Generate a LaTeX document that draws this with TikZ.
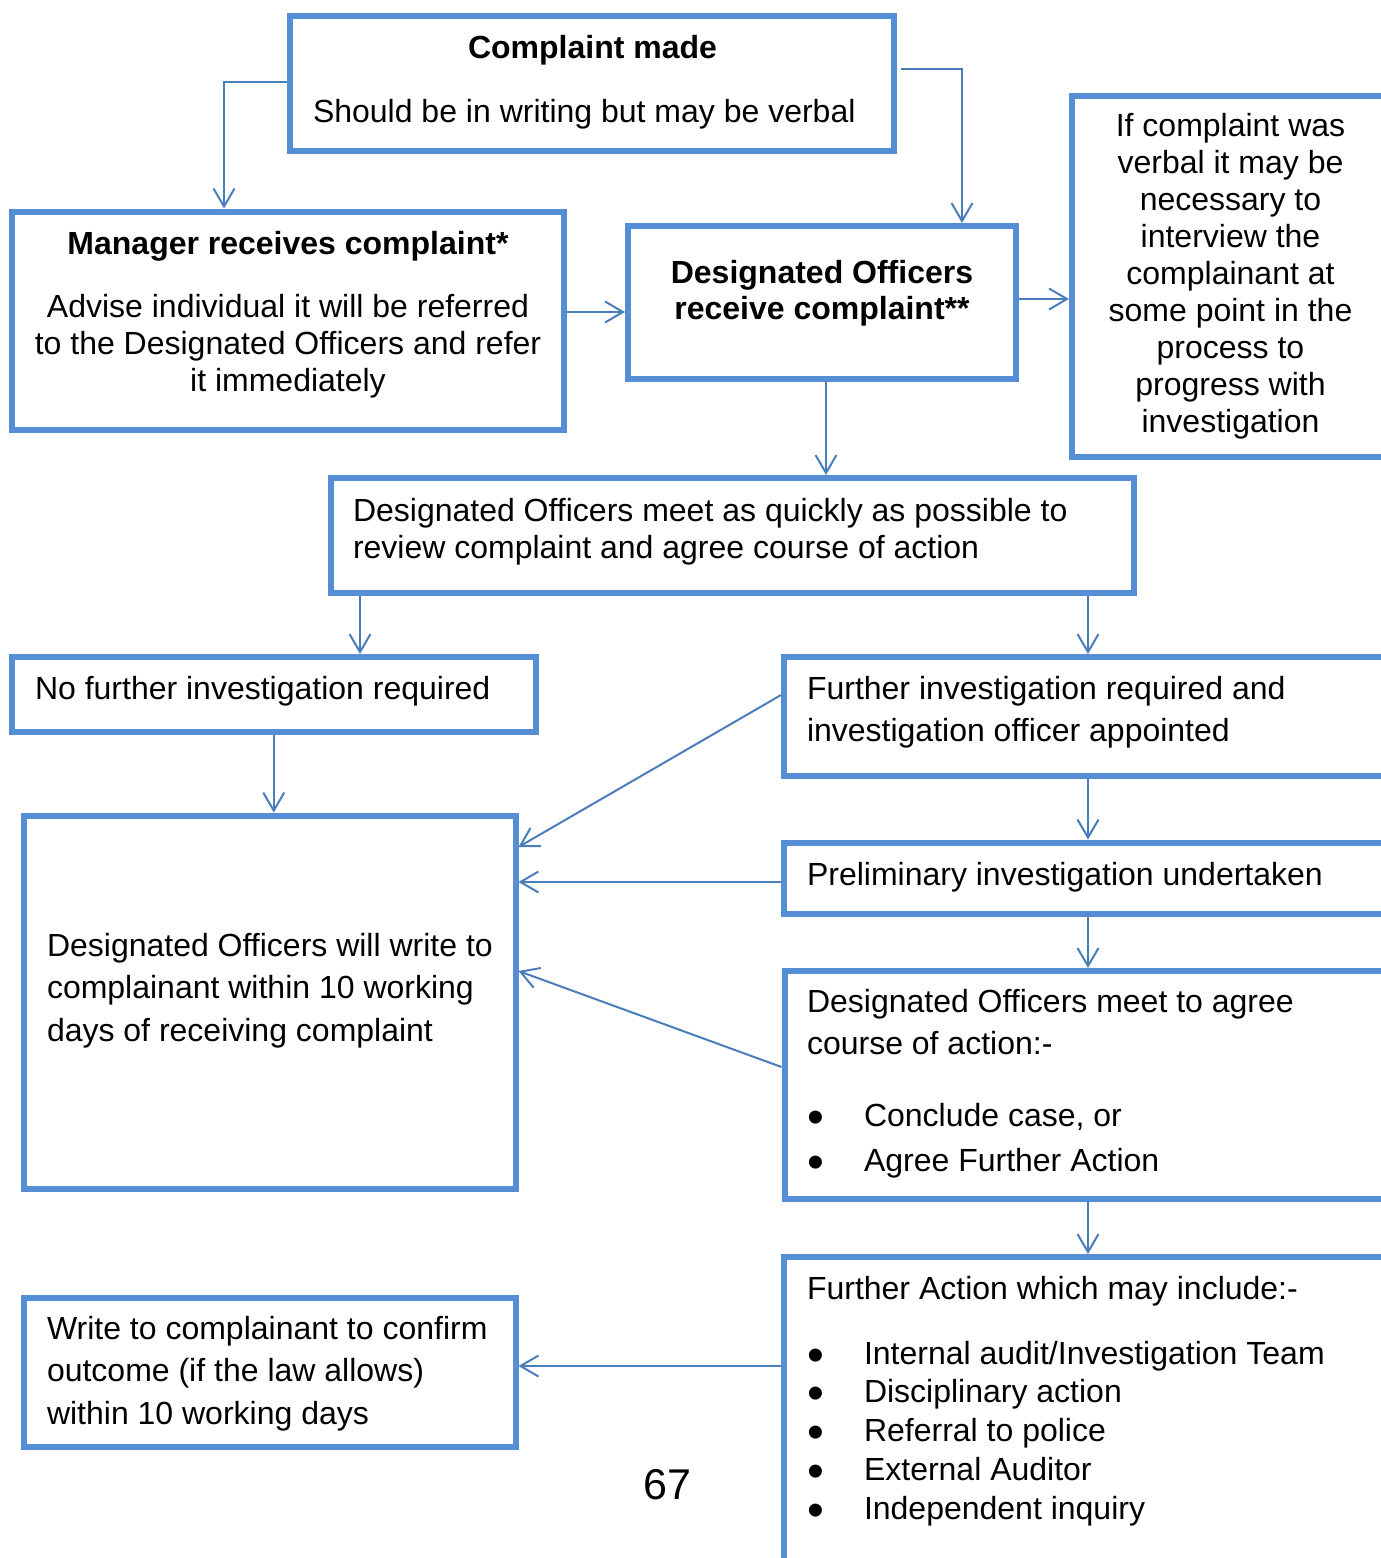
\documentclass[tikz,border=0pt]{standalone}
\usepackage{fontspec}
\setmainfont{Liberation Sans}
\usepackage{graphicx}
\usetikzlibrary{arrows.meta,calc}
\definecolor{boxblue}{RGB}{85,142,213}
\definecolor{lineblue}{RGB}{74,126,187}
\newcommand\fsz[1]{\fontsize{16pt}{#1}\selectfont}
\newcommand\bul{\makebox[28.5pt][l]{\smash{\raisebox{-3.5pt}{\scalebox{1.5}{•}}}}}
\begin{document}
\begin{tikzpicture}[x=0.5pt,y=-0.5pt,
  box/.style={draw=boxblue,line width=3pt,inner sep=0pt,fill=none},
  conn/.style={draw=lineblue,line width=1pt,-{Straight Barb[length=9pt,width=10.5pt]}},
  txt/.style={inner sep=0pt,outer sep=0pt,text=black},
]
\useasboundingbox (0,0) rectangle (1381,1558);
\clip (0,0) rectangle (1381,1558);

% boxes
\node[box,minimum width=301.85pt,minimum height=67.5pt] (cm) at (591.85,83.5) {};
\node[box,minimum width=276pt,minimum height=109pt] (mgr) at (288,320.5) {};
\node[box,minimum width=194pt,minimum height=76.25pt] (dor) at (822,302.25) {};
\node[box,minimum width=174pt,minimum height=180.5pt] (verb) at (1246,276.5) {};
\node[box,minimum width=401.5pt,minimum height=57.5pt] (meet) at (732.5,535.5) {};
\node[box,minimum width=261.75pt,minimum height=37.25pt] (nf) at (273.75,694.25) {};
\node[box,minimum width=318pt,minimum height=59.5pt] (fi) at (1102,716.5) {};
\node[box,minimum width=245.75pt,minimum height=186.75pt] (wr) at (269.75,1002.25) {};
\node[box,minimum width=318pt,minimum height=35.75pt] (pre) at (1102,878.25) {};
\node[box,minimum width=317.75pt,minimum height=114pt] (ma) at (1102.25,1085) {};
\node[box,minimum width=245.75pt,minimum height=74.5pt] (wc) at (269.75,1372.5) {};
\node[box,minimum width=318pt,minimum height=181.5pt] (fa) at (1102,1438.5) {};

% helper coordinates
\coordinate (k1) at (224,82);
\coordinate (k2) at (962,69);
\coordinate (k3) at (0,312);
\coordinate (k4) at (0,299);
\coordinate (k5) at (826,0);
\coordinate (k6) at (360,0);
\coordinate (k7) at (1088,0);
\coordinate (k8) at (0,695);
\coordinate (k9) at (0,847);
\coordinate (k10) at (0,882);
\coordinate (k11) at (0,1067);
\coordinate (k12) at (0,971);
\coordinate (k13) at (0,1366);

% connectors
\draw[conn] (cm.west |- k1) -| (mgr.north -| k1);
\draw[conn] ($(cm.east |- k2)+(4,0)$) -| (dor.north -| k2);
\draw[conn] (mgr.east |- k3) -- (dor.west |- k3);
\draw[conn] (dor.east |- k4) -- (verb.west |- k4);
\draw[conn] (dor.south -| k5) -- (meet.north -| k5);
\draw[conn] (meet.south -| k6) -- (nf.north -| k6);
\draw[conn] (meet.south -| k7) -- (fi.north -| k7);
\draw[conn] (nf.south) -- (wr.north -| nf.south);
\draw[conn] (fi.west |- k8) -- (wr.east |- k9);
\draw[conn] (fi.south -| k7) -- (pre.north -| k7);
\draw[conn] (pre.west |- k10) -- (wr.east |- k10);
\draw[conn] (pre.south -| k7) -- (ma.north -| k7);
\draw[conn] (ma.west |- k11) -- (wr.east |- k12);
\draw[conn] (ma.south -| k7) -- (fa.north -| k7);
\draw[conn] (fa.west |- k13) -- (wc.east |- k13);

% texts (base anchor = baseline of the last line)
\node[txt,anchor=base,font={\fsz{18pt}\bfseries}] (tcm1) at (592.5,58) {Complaint made};
\node[txt,anchor=base west,font={\fsz{18pt}}] (tcm2) at (313,122) {Should be in writing but may be verbal};
\node[txt,anchor=base,font={\fsz{18pt}\bfseries}] (tmgr1) at (288,254) {Manager receives complaint*};
\node[txt,anchor=base,align=center,font={\fsz{18.5pt}}] (tmgr2) at (288,391)
  {Advise individual it will be referred\\to the Designated Officers and refer\\it immediately};
\node[txt,anchor=base,align=center,font={\fsz{18pt}\bfseries}] (tdor) at (822,319)
  {Designated Officers\\receive complaint**};
\node[txt,anchor=base,align=center,font={\fsz{18.44pt}}] (tverb) at (1230.5,432)
  {If complaint was\\verbal it may be\\necessary to\\interview the\\complainant at\\some point in the\\process to\\progress with\\investigation};
\node[txt,anchor=base west,align=left,font={\fsz{18.5pt}}] (tmeet) at (353,558)
  {Designated Officers meet as quickly as possible to\\review complaint and agree course of action};
\node[txt,anchor=base west,font={\fsz{18pt}}] (tnf) at (35,699) {No further investigation required};
\node[txt,anchor=base west,align=left,font={\fsz{21pt}}] (tfi) at (807,741)
  {Further investigation required and\\investigation officer appointed};
\node[txt,anchor=base west,align=left,font={\fsz{21.25pt}}] (twr) at (47,1041)
  {Designated Officers will write to\\complainant within 10 working\\days of receiving complaint};
\node[txt,anchor=base west,font={\fsz{18pt}}] (tpre) at (807,885) {Preliminary investigation undertaken};
\node[txt,anchor=base west,align=left,font={\fsz{20.85pt}}] (tma1) at (807,1054.2)
  {Designated Officers meet to agree\\course of action:-};
\node[txt,anchor=base west,align=left,font={\fsz{22.5pt}}] (tma2) at (807,1171)
  {\bul Conclude case, or\\\bul Agree Further Action};
\node[txt,anchor=base west,align=left,font={\fsz{21.25pt}}] (twc) at (47,1424)
  {Write to complainant to confirm\\outcome (if the law allows)\\within 10 working days};
\node[txt,anchor=base west,font={\fsz{18pt}}] (tfa1) at (807,1299) {Further Action which may include:-};
\node[txt,anchor=base west,align=left,font={\fsz{19.4pt}}] (tfa2) at (807,1519.2)
  {\bul Internal audit/Investigation Team\\\bul Disciplinary action\\\bul Referral to police\\\bul External Auditor\\\bul Independent inquiry};
\node[txt,anchor=base,font={\fontsize{21.5pt}{24pt}\selectfont}] (tpage) at (667.5,1499) {67};
\end{tikzpicture}
\end{document}
